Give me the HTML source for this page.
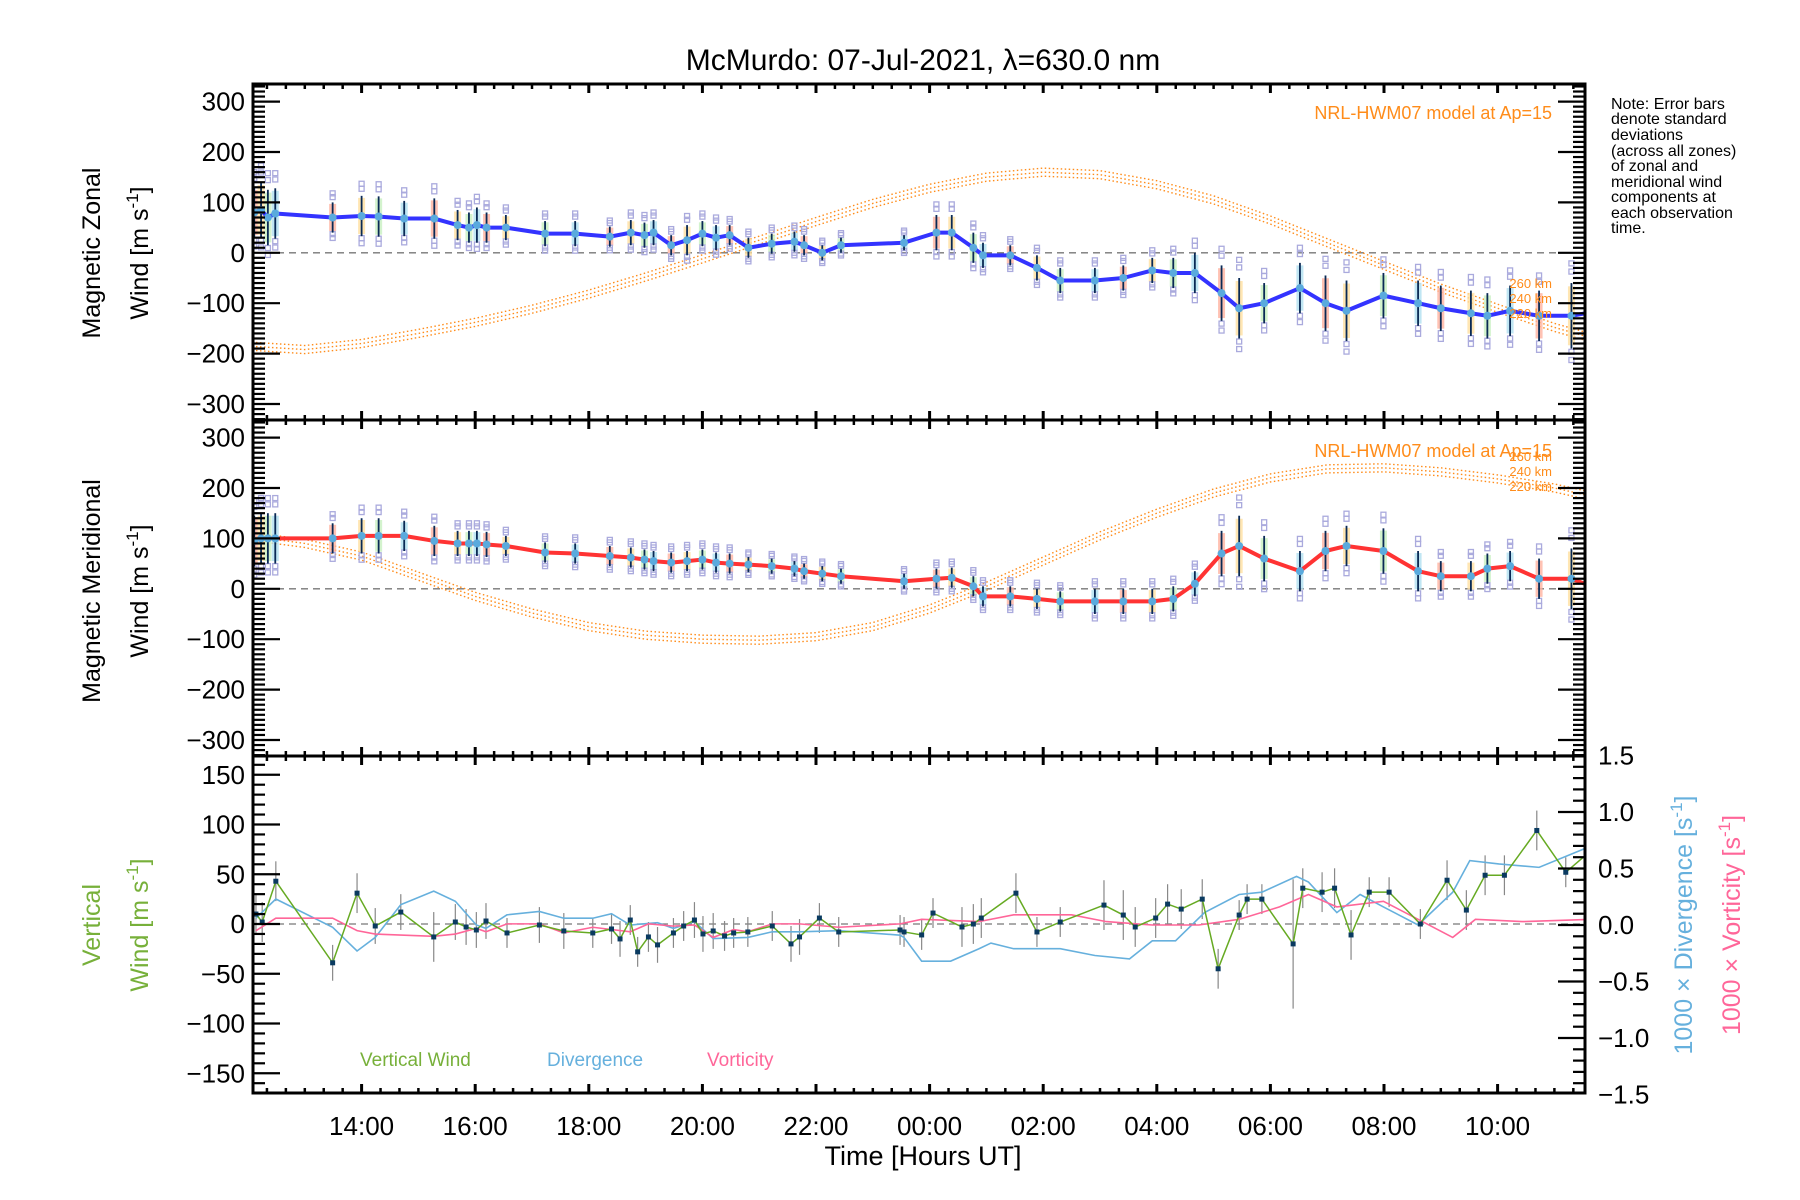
<!DOCTYPE html>
<html><head><meta charset="utf-8"><style>
html,body{margin:0;padding:0;background:#fff}
svg{display:block;font-family:"Liberation Sans",sans-serif}
</style></head><body>
<svg id="chart" width="1800" height="1200" viewBox="0 0 1800 1200" xmlns="http://www.w3.org/2000/svg">
<defs>
<clipPath id="c1"><rect x="253" y="84" width="1332" height="336"/></clipPath>
<clipPath id="c2"><rect x="253" y="420" width="1332" height="336"/></clipPath>
<clipPath id="c3"><rect x="253" y="756" width="1332" height="337"/></clipPath>
</defs>
<text x="923" y="70" font-size="30" text-anchor="middle">McMurdo: 07-Jul-2021, λ=630.0 nm</text>
<g id="g1" clip-path="url(#c1)"></g>
<g id="g2" clip-path="url(#c2)"></g>
<g id="g3" clip-path="url(#c3)"></g>
<g id="axes"></g>
<text transform="translate(100,253) rotate(-90)" font-size="25" text-anchor="middle">Magnetic Zonal</text>
<text transform="translate(148,253) rotate(-90)" font-size="25" text-anchor="middle">Wind [m s<tspan font-size="17" dy="-10">-1</tspan><tspan dy="10">]</tspan></text>
<text transform="translate(100,591) rotate(-90)" font-size="25" text-anchor="middle">Magnetic Meridional</text>
<text transform="translate(148,591) rotate(-90)" font-size="25" text-anchor="middle">Wind [m s<tspan font-size="17" dy="-10">-1</tspan><tspan dy="10">]</tspan></text>
<text transform="translate(100,925) rotate(-90)" font-size="25" text-anchor="middle" fill="#77b03a">Vertical</text>
<text transform="translate(148,925) rotate(-90)" font-size="25" text-anchor="middle" fill="#77b03a">Wind [m s<tspan font-size="17" dy="-10">-1</tspan><tspan dy="10">]</tspan></text>
<text transform="translate(1692,925) rotate(-90)" font-size="25" text-anchor="middle" fill="#66b0dd">1000 × Divergence [s<tspan font-size="17" dy="-10">-1</tspan><tspan dy="10">]</tspan></text>
<text transform="translate(1740,925) rotate(-90)" font-size="25" text-anchor="middle" fill="#ff6699">1000 × Vorticity [s<tspan font-size="17" dy="-10">-1</tspan><tspan dy="10">]</tspan></text>
<text x="923" y="1165" font-size="27" text-anchor="middle">Time [Hours UT]</text>
<g font-size="16" fill="#000">
<text x="1611" y="109">Note: Error bars</text><text x="1611" y="124">denote standard</text><text x="1611" y="140">deviations</text><text x="1611" y="156">(across all zones)</text><text x="1611" y="171">of zonal and</text><text x="1611" y="187">meridional wind</text><text x="1611" y="202">components at</text><text x="1611" y="218">each observation</text><text x="1611" y="233">time.</text>
</g>
<g fill="#ff8c1a">
<text x="1552" y="119" font-size="18" text-anchor="end">NRL-HWM07 model at Ap=15</text>
<text x="1552" y="288" font-size="13" text-anchor="end">260 km</text>
<text x="1552" y="303" font-size="13" text-anchor="end">240 km</text>
<text x="1552" y="318" font-size="13" text-anchor="end">220 km</text>
<text x="1552" y="457" font-size="18" text-anchor="end">NRL-HWM07 model at Ap=15</text>
<text x="1552" y="461" font-size="13" text-anchor="end">260 km</text>
<text x="1552" y="476" font-size="13" text-anchor="end">240 km</text>
<text x="1552" y="491" font-size="13" text-anchor="end">220 km</text>
</g>
<text x="360" y="1066" font-size="19" fill="#77b03a">Vertical Wind</text>
<text x="547" y="1066" font-size="19" fill="#66b0dd">Divergence</text>
<text x="707" y="1066" font-size="19" fill="#ff6699">Vorticity</text>
</svg>
<script>
// ---- data (time in decimal hours UT, continuing past 24) ----
const obsTimes = [12.11,12.23,12.35,12.48,13.49,14.0,14.30,14.75,15.28,15.69,15.89,16.03,16.20,16.54,17.23,17.76,18.37,18.74,18.98,19.14,19.45,19.73,20.0,20.24,20.48,20.81,21.22,21.62,21.79,22.11,22.44,23.55,24.12,24.39,24.77,24.94,25.42,25.89,26.30,26.91,27.41,27.92,28.29,28.67,29.14,29.45,29.89,30.52,30.97,31.34,31.99,32.60,33.0,33.53,33.82,34.22,34.73,35.30,35.65];
const zonalWind = [80,85,70,78,70,73,72,68,68,55,50,55,50,50,38,38,32,40,35,40,15,25,38,30,35,10,18,22,15,0,15,20,40,40,10,-5,-5,-30,-55,-55,-50,-35,-40,-40,-80,-110,-100,-70,-100,-115,-85,-100,-110,-120,-125,-115,-125,-125,-118];
const zonalStd = [50,55,55,50,30,40,40,35,40,30,30,35,30,25,25,25,20,25,25,25,20,30,25,25,20,20,20,20,20,15,15,15,35,35,30,25,20,25,25,25,25,25,30,40,55,60,40,50,55,60,45,45,45,45,45,50,50,65,60];
const meridWind = [95,100,100,100,100,105,105,105,95,90,90,90,88,85,72,70,65,62,58,55,52,55,58,52,50,48,45,40,35,30,25,15,20,22,5,-15,-15,-20,-25,-25,-25,-25,-20,10,70,85,60,35,75,85,75,35,25,25,40,45,20,20,5];
const meridStd = [50,50,50,50,30,35,35,30,30,25,25,25,25,20,20,20,20,20,20,20,20,20,20,20,20,15,15,15,15,15,15,15,20,20,20,20,20,20,20,25,25,25,25,25,45,60,45,40,40,40,45,40,30,30,30,30,40,60,60];
const modelHours = [12,13,14,15,16,17,18,19,20,21,22,23,24,25,26,27,28,29,30,31,32,33,34,35,36];
const zonalModel240 = [-185,-192,-180,-160,-138,-112,-82,-48,-12,25,62,98,128,150,160,155,135,105,65,20,-25,-70,-110,-148,-180];
const meridModel240 = [105,90,65,25,-15,-48,-75,-92,-100,-102,-95,-75,-40,5,55,105,150,190,220,238,240,232,218,200,175];
const altOffsets = [8,0,-8];
const vwTimes = [12.14,12.25,12.49,13.49,13.92,14.24,14.69,15.27,15.65,15.84,16.02,16.19,16.56,17.13,17.56,18.07,18.40,18.55,18.73,18.86,19.05,19.21,19.49,19.67,19.86,20.01,20.19,20.39,20.55,20.80,21.23,21.56,21.71,22.06,22.40,23.48,23.55,23.86,24.06,24.57,24.77,24.91,25.52,25.89,26.30,27.07,27.41,27.62,27.98,28.19,28.43,28.80,29.08,29.45,29.59,29.85,30.40,30.57,30.91,31.13,31.42,31.74,32.09,32.64,33.11,33.45,33.78,34.12,34.69,35.20,35.65];
const vertWind = [10,2,43,-39,31,-2,12,-13,2,-3,-6,3,-9,-1,-7,-9,-5,-15,4,-28,-13,-21,-9,-2,4,-10,-7,-12,-9,-8,-2,-20,-13,6,-8,-6,-8,-11,11,-3,0,6,31,-8,2,19,9,-3,6,20,15,25,-45,9,25,25,-20,36,32,36,-11,32,32,0,44,14,49,49,94,52,74];
const vertErr = [20,20,20,18,20,18,18,25,18,18,18,18,15,18,18,15,15,18,15,15,15,18,15,15,18,18,18,15,15,15,15,18,18,15,15,15,15,15,15,20,20,20,20,15,15,25,25,20,20,20,20,20,20,15,15,15,65,20,20,20,25,15,15,15,20,20,20,20,20,15,15];
const divTimes = [12.14,12.49,13.49,13.92,14.24,14.69,15.27,15.65,16.02,16.19,16.56,17.13,17.56,18.07,18.40,18.73,19.21,19.49,19.86,20.19,20.80,21.23,21.71,22.40,23.48,23.55,23.86,24.37,24.87,25.08,25.48,26.30,26.91,27.52,27.92,28.33,28.84,29.45,29.85,30.46,30.67,31.17,31.58,31.99,32.60,33.21,33.51,34.02,34.73,35.65];
const divergence = [0.06,0.23,-0.02,-0.23,-0.11,0.18,0.30,0.21,0,-0.03,0.09,0.12,0.06,0.06,0.10,0,0.02,-0.03,0.03,-0.12,-0.11,-0.06,-0.06,-0.05,-0.09,-0.11,-0.32,-0.32,-0.21,-0.16,-0.21,-0.21,-0.27,-0.30,-0.14,-0.14,0.11,0.27,0.29,0.43,0.38,0.11,0.27,0.16,0,0.29,0.57,0.54,0.51,0.70];
const vortTimes = [12.14,12.49,13.49,13.92,14.24,15.27,15.65,16.02,16.19,16.56,17.13,17.56,18.07,18.73,19.05,19.49,19.86,20.19,20.55,20.80,21.23,21.71,22.40,23.48,23.86,24.87,25.48,26.50,27.11,27.92,28.74,29.45,30.16,30.67,31.17,31.99,32.60,33.21,33.61,34.43,35.65];
const vorticity = [-0.05,0.06,0.06,-0.05,-0.08,-0.10,-0.08,-0.03,-0.06,0.01,0.01,-0.07,-0.02,-0.06,0.01,-0.01,0,-0.11,-0.04,-0.06,0.01,0.01,-0.02,0.01,0.05,0.03,0.09,0.09,0.03,0,0,0.05,0.16,0.27,0.16,0.21,0.05,-0.11,0.05,0.03,0.05];
const xTickHours = [14,16,18,20,22,24,26,28,30,32,34];
const xTickLabels = ["14:00","16:00","18:00","20:00","22:00","00:00","02:00","04:00","06:00","08:00","10:00"];
const windTicks = [300,200,100,0,-100,-200,-300];
const vertTicks = [150,100,50,0,-50,-100,-150];
const rightTicks = [1.5,1.0,0.5,0.0,-0.5,-1.0,-1.5];

// ---- geometry ----
const L=253,R=1585,T1=84,B1=420,T2=420,B2=756,T3=756,B3=1093;
const x = h => 361.6 + (h-14)*56.8;
const y1 = v => 252.8 - v*0.504;
const y2 = v => 588.8 - v*0.504;
const y3 = v => 924 - v*0.995;
const yr = v => 925 - v*113;
const NS='http://www.w3.org/2000/svg';
function mk(tag,attrs,parent){const e=document.createElementNS(NS,tag);for(const k in attrs)e.setAttribute(k,attrs[k]);parent.appendChild(e);return e;}
const g1=document.getElementById('g1'),g2=document.getElementById('g2'),g3=document.getElementById('g3'),ax=document.getElementById('axes');

function windPanel(g,yf,vals,stds,model,lineColor,nm){
  let zl=mk('line',{x1:L,x2:R,y1:yf(0),y2:yf(0),stroke:'#777','stroke-width':1.3,'stroke-dasharray':'7,5'},g);
  
  
  altOffsets.forEach((off,k)=>{
    const pts=modelHours.map((h,i)=>x(h)+','+yf(model[i]+off)).join(' ');
    const p=mk('polyline',{points:pts,fill:'none',stroke:'#ff8c1a','stroke-width':1.4,'stroke-dasharray':'1.5,2.5'},g);
    
    
  });
  const pal=['#ffb3a0','#ffe0a0','#c8f0c0','#b0e0f0'];
  obsTimes.forEach((h,i)=>{
    const cx=x(h),v=vals[i],s=stds[i];
    const b=mk('rect',{x:cx-3.5,y:yf(v+s*0.9),width:7,height:Math.abs(yf(v-s*0.9)-yf(v+s*0.9)),fill:pal[i%4],opacity:0.8},g);
    
    
    [1.35,-1.35,1.6,-1.1].forEach(k=>{
      const q=mk('rect',{x:cx-2.5,y:yf(v+s*k)-2.5,width:5,height:5,fill:'none',stroke:'#aaaadd','stroke-width':1.3},g);
      
      
    });
    const e=mk('line',{x1:cx,x2:cx,y1:yf(v+s),y2:yf(v-s),stroke:'#0a2a55','stroke-width':1.8},g);
    
    
  });
  const pl=mk('polyline',{points:obsTimes.map((h,i)=>x(h)+','+yf(vals[i])).join(' '),fill:'none',stroke:lineColor,'stroke-width':4,'stroke-linejoin':'round'},g);
  
  
  obsTimes.forEach((h,i)=>{
    const c=mk('circle',{cx:x(h),cy:yf(vals[i]),r:4,fill:'#5aaadd'},g);
    
    
  });
}
windPanel(g1,y1,zonalWind,zonalStd,zonalModel240,'#3333ff','zonal');
windPanel(g2,y2,meridWind,meridStd,meridModel240,'#ff3333','meridional');

let z3=mk('line',{x1:L,x2:R,y1:y3(0),y2:y3(0),stroke:'#777','stroke-width':1.3,'stroke-dasharray':'7,5'},g3);


vwTimes.forEach((h,i)=>{
  const e=mk('line',{x1:x(h),x2:x(h),y1:y3(vertWind[i]+vertErr[i]),y2:y3(vertWind[i]-vertErr[i]),stroke:'#888','stroke-width':1.2},g3);
  
  
});
let dv=mk('polyline',{points:divTimes.map((h,i)=>x(h)+','+yr(divergence[i])).join(' '),fill:'none',stroke:'#66b0dd','stroke-width':1.6},g3);


let vo=mk('polyline',{points:vortTimes.map((h,i)=>x(h)+','+yr(vorticity[i])).join(' '),fill:'none',stroke:'#ff6699','stroke-width':1.6},g3);


let vw=mk('polyline',{points:vwTimes.map((h,i)=>x(h)+','+y3(vertWind[i])).join(' '),fill:'none',stroke:'#66aa22','stroke-width':1.5},g3);


vwTimes.forEach((h,i)=>{
  const r=mk('rect',{x:x(h)-2.5,y:y3(vertWind[i])-2.5,width:5,height:5,fill:'#0a3a60'},g3);
  
  
});

function frame(t,b,nm){
  const r=mk('rect',{x:L,y:t,width:R-L,height:b-t,fill:'none',stroke:'#000','stroke-width':3},ax);
  
  
  for(let h=12.0;h<=35.6;h+=1/3){
    const hh=Math.round(h*3)/3; if(x(hh)<L||x(hh)>R) continue;
    const major=Math.abs(hh-Math.round(hh))<0.01 && Math.round(hh)%2===0;
    const len=major?9:5;
    mk('line',{x1:x(hh),x2:x(hh),y1:t,y2:t+len,stroke:'#000','stroke-width':major?3:2.5},ax);
    mk('line',{x1:x(hh),x2:x(hh),y1:b,y2:b-len,stroke:'#000','stroke-width':major?3:2.5},ax);
  }
}
function yTicks(yf,ticks,step,lo,hi,t,b,right,labels,nm){
  for(let v=lo;v<=hi+1e-9;v+=step){
    const yy=yf(v); if(yy<t-1||yy>b+1) continue;
    const major=ticks.some(tv=>Math.abs(tv-v)<step/2);
    const len=major?27:12;
    if(!right || right==='both'){ mk('line',{x1:L,x2:L+len,y1:yy,y2:yy,stroke:'#000','stroke-width':2.2},ax);}
    if(right){ mk('line',{x1:R,x2:R-len,y1:yy,y2:yy,stroke:'#000','stroke-width':2.2},ax);}
  }
  if(labels) ticks.forEach(tv=>{
    const tx=mk('text',{x:right==='only'?1598:245,y:yf(tv)+9,'font-size':26,'text-anchor':right==='only'?'start':'end'},ax);
    
    
    const val = right==='only' ? tv.toFixed(1) : String(tv);
    tx.textContent=val.replace('-','\u2212');
  });
}
frame(T1,B1,'zonal'); frame(T2,B2,'meridional'); frame(T3,B3,'vertical');
yTicks(y1,windTicks,10,-330,330,T1,B1,'both',true,'zonal-y');
yTicks(y2,windTicks,10,-330,330,T2,B2,'both',true,'meridional-y');
yTicks(y3,vertTicks,10,-170,170,T3,B3,false,true,'vertical-y');
yTicks(yr,rightTicks,0.1,-1.6,1.6,T3,B3,'only',true,'right-y');
xTickHours.forEach((h,i)=>{
  const t=mk('text',{x:x(h),y:1135,'font-size':26,'text-anchor':'middle'},ax);
  
  
  t.textContent=xTickLabels[i];
});
</script>
</body></html>
